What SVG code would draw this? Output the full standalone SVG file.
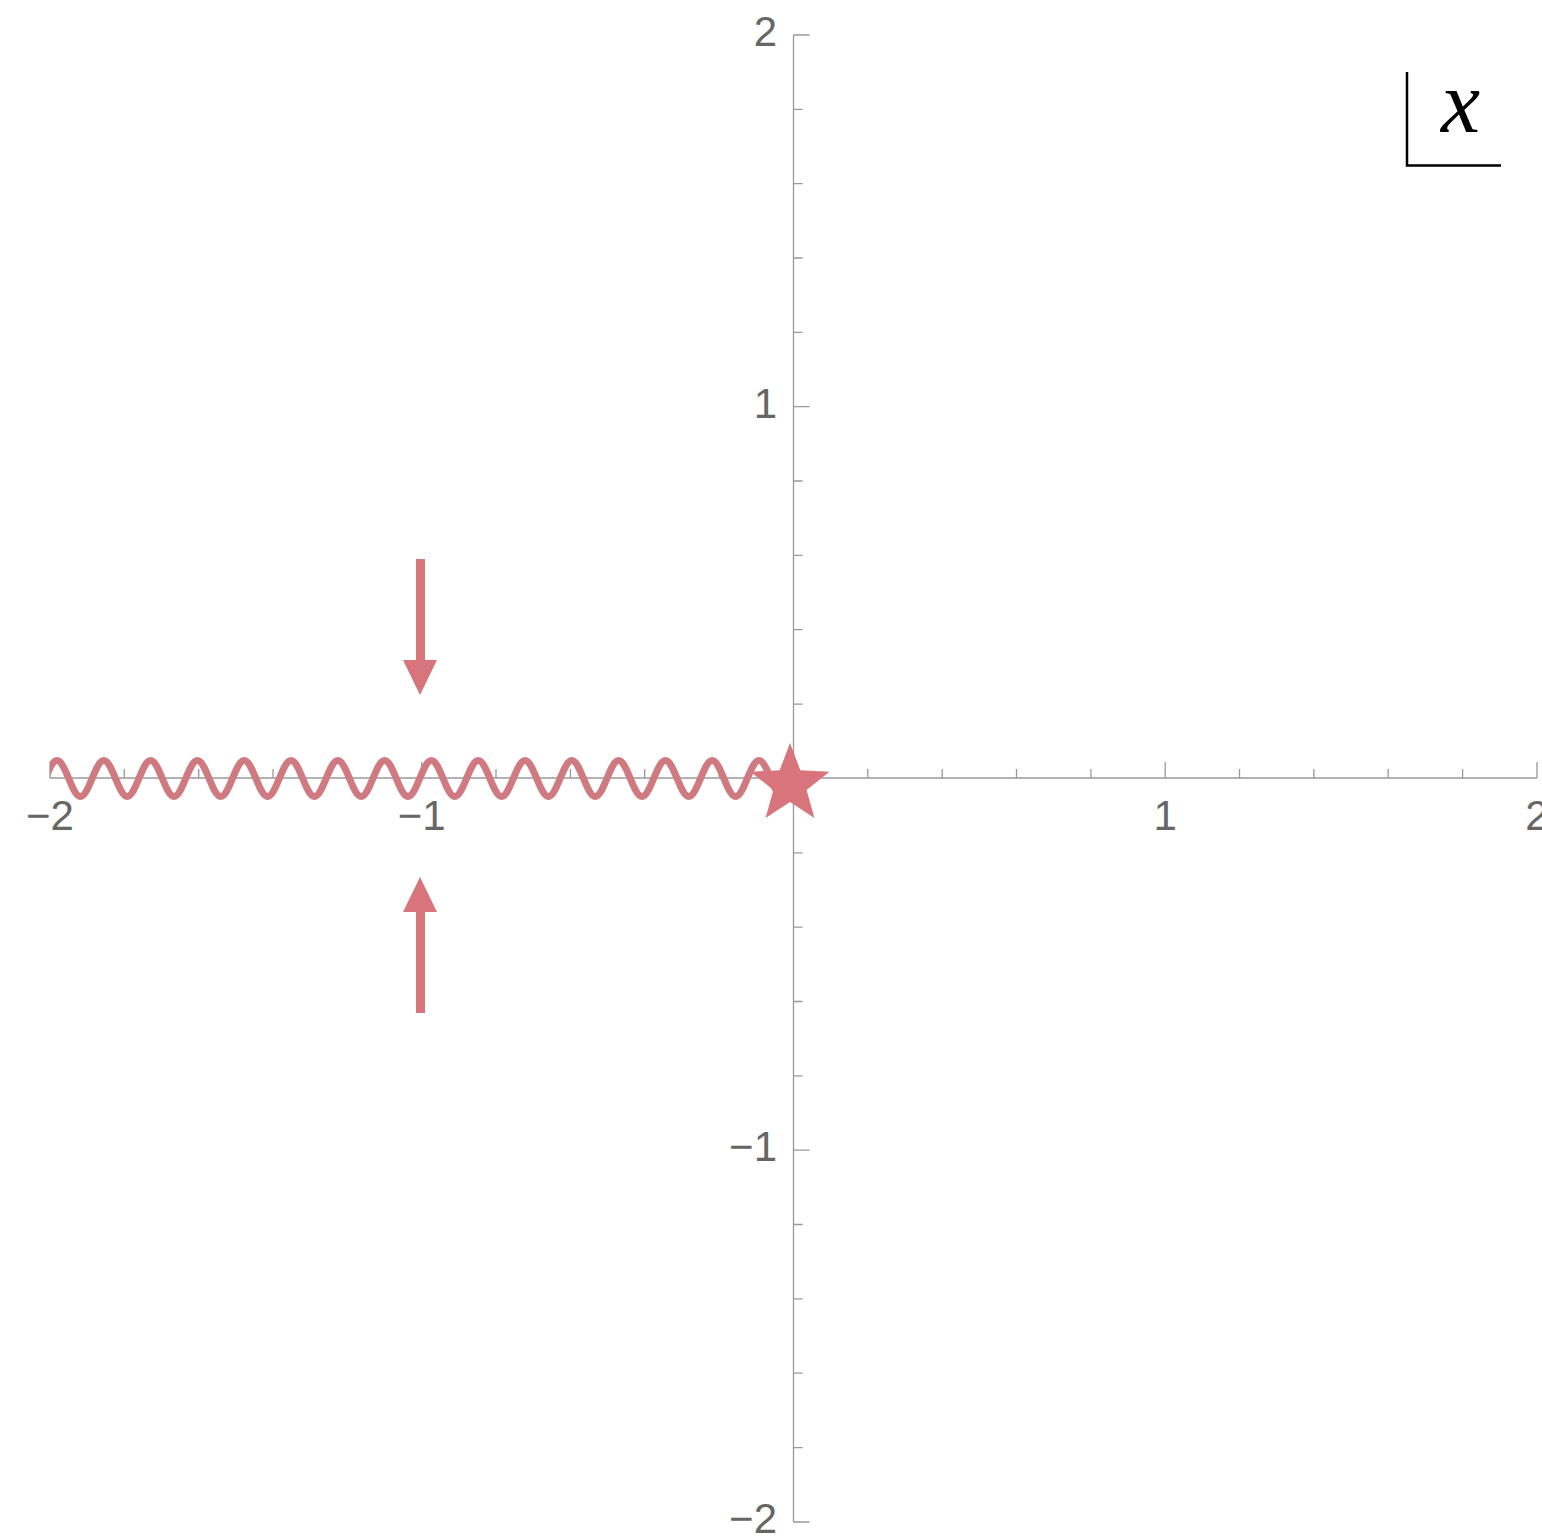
<svg xmlns="http://www.w3.org/2000/svg" width="1542" height="1537" viewBox="0 0 1542 1537">
<style>
.ax{stroke:#999;stroke-width:1.3;fill:none}
.tk{stroke:#999;stroke-width:1.3;fill:none}
.lb{font-family:"Liberation Sans",Arial,sans-serif;font-size:42px;fill:#666}
.red{fill:#d8747c}
</style>
<defs>
<clipPath id="wc"><rect x="50" y="700" width="740" height="160"/></clipPath>
</defs>
<rect width="1542" height="1537" fill="#fff"/>
<g id="axes">
<line class="ax" x1="50" y1="778" x2="1537" y2="778"/>
<line class="ax" x1="793.5" y1="35" x2="793.5" y2="1522"/>
<path class="tk" d="M50,778v-16M124.3,778v-9M198.7,778v-9M273,778v-9M347.4,778v-9M421.7,778v-16M496,778v-9M570.4,778v-9M644.7,778v-9M719.1,778v-9M867.8,778v-9M942.2,778v-9M1016.5,778v-9M1090.9,778v-9M1165.2,778v-16M1239.5,778v-9M1313.9,778v-9M1388.2,778v-9M1462.6,778v-9M1537,778v-16"/>
<path class="tk" d="M793.5,35h16M793.5,109.3h9M793.5,183.7h9M793.5,258h9M793.5,332.4h9M793.5,406.7h16M793.5,481h9M793.5,555.4h9M793.5,629.7h9M793.5,704.1h9M793.5,852.8h9M793.5,927.2h9M793.5,1001.5h9M793.5,1075.9h9M793.5,1150.2h16M793.5,1224.5h9M793.5,1298.9h9M793.5,1373.2h9M793.5,1447.6h9M793.5,1522h16"/>
<text class="lb" x="50" y="830" text-anchor="middle">−2</text>
<text class="lb" x="421.7" y="830" text-anchor="middle">−1</text>
<text class="lb" x="1165.2" y="830" text-anchor="middle">1</text>
<text class="lb" x="1537" y="830" text-anchor="middle">2</text>
<text class="lb" x="777" y="46" text-anchor="end">2</text>
<text class="lb" x="777" y="418" text-anchor="end">1</text>
<text class="lb" x="777" y="1161" text-anchor="end">−1</text>
<text class="lb" x="777" y="1533" text-anchor="end">−2</text>
</g>
<g id="branch-cut">
<path clip-path="url(#wc)" fill="none" stroke="#cf7a80" stroke-width="7" d="M10.2,760.5c8.52,0 14.88,36 23.4,36s14.88,-36 23.4,-36s14.88,36 23.4,36s14.88,-36 23.4,-36s14.88,36 23.4,36s14.88,-36 23.4,-36s14.88,36 23.4,36s14.88,-36 23.4,-36s14.88,36 23.4,36s14.88,-36 23.4,-36s14.88,36 23.4,36s14.88,-36 23.4,-36s14.88,36 23.4,36s14.88,-36 23.4,-36s14.88,36 23.4,36s14.88,-36 23.4,-36s14.88,36 23.4,36s14.88,-36 23.4,-36s14.88,36 23.4,36s14.88,-36 23.4,-36s14.88,36 23.4,36s14.88,-36 23.4,-36s14.88,36 23.4,36s14.88,-36 23.4,-36s14.88,36 23.4,36s14.88,-36 23.4,-36s14.88,36 23.4,36s14.88,-36 23.4,-36s14.88,36 23.4,36s14.88,-36 23.4,-36s14.88,36 23.4,36s14.88,-36 23.4,-36s14.88,36 23.4,36s14.88,-36 23.4,-36s14.88,36 23.4,36"/>
</g>
<g id="branch-point">
<polygon class="red" points="790,743 800.3,770.3 829.5,771.7 806.6,789.9 814.4,818.1 790,802 765.6,818.1 773.4,789.9 750.5,771.7 779.7,770.3"/>
</g>
<g id="connectors">
<g id="arrow-down">
<rect class="red" x="416" y="559" width="9" height="103"/>
<polygon class="red" points="403,660 437,660 420,695"/>
</g>
<g id="arrow-up">
<rect class="red" x="416" y="910" width="9" height="103"/>
<polygon class="red" points="403,912 437,912 420,877"/>
</g>
</g>
<g id="variable-label">
<path d="M1407,72V165.5H1501" fill="none" stroke="#000" stroke-width="2.5"/>
<text x="1441" y="132" font-family="'Liberation Serif','Times New Roman',serif" font-style="italic" font-size="88" fill="#000">x</text>
</g>
</svg>
